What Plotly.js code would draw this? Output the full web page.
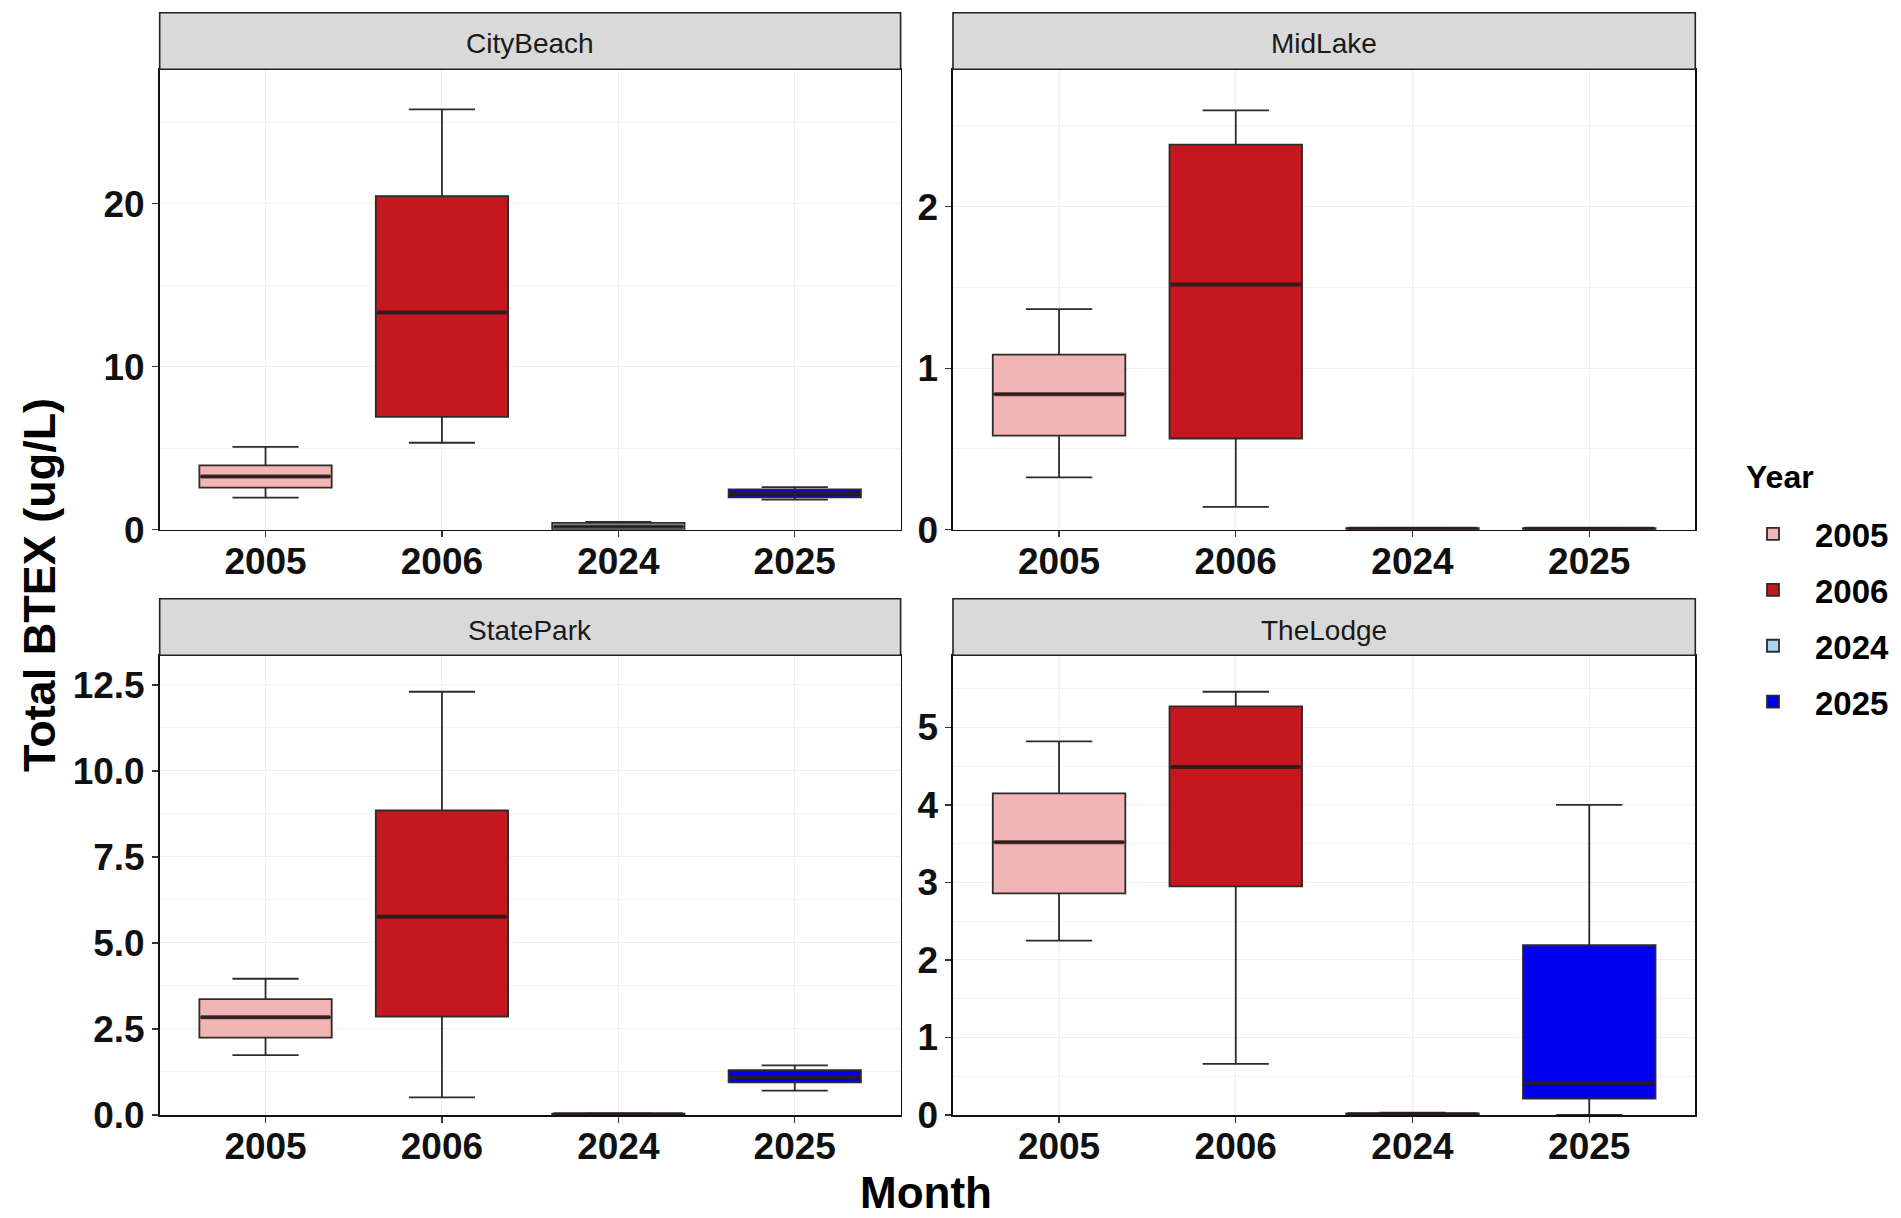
<!DOCTYPE html>
<html>
<head>
<meta charset="utf-8">
<script src="https://cdn.plot.ly/plotly-3.0.1.min.js"></script>
<style>
  html, body { margin: 0; padding: 0; background: #ffffff; }
  #chart { width: 1901px; height: 1218px; }
</style>
</head>
<body>
<div id="chart"></div>
<script>
// ---- data ----
const sites = ['CityBeach', 'MidLake', 'StatePark', 'TheLodge'];
const years = ['2005', '2006', '2024', '2025'];
const yearColors = ['#F2B5B5', '#C5181E', '#A6D8F4', '#0000EE'];

// rows = sites, columns = years
const lowerFence = [
  [1.98, 5.34, 0.00, 1.85],
  [0.325, 0.142, 0.000, 0.000],
  [1.74, 0.51, 0.00, 0.71],
  [2.25, 0.66, 0.00, 0.00]
];
const q1 = [
  [2.59, 6.93, 0.03, 1.99],
  [0.583, 0.565, 0.003, 0.003],
  [2.25, 2.86, 0.01, 0.95],
  [2.86, 2.95, 0.005, 0.21]
];
const median = [
  [3.27, 13.33, 0.20, 2.25],
  [0.839, 1.518, 0.006, 0.006],
  [2.84, 5.76, 0.02, 1.10],
  [3.52, 4.49, 0.01, 0.41]
];
const q3 = [
  [3.95, 20.47, 0.42, 2.48],
  [1.084, 2.383, 0.010, 0.010],
  [3.37, 8.85, 0.04, 1.30],
  [4.15, 5.27, 0.02, 2.19]
];
const upperFence = [
  [5.09, 25.8, 0.48, 2.62],
  [1.365, 2.595, 0.012, 0.012],
  [3.96, 12.3, 0.05, 1.44],
  [4.82, 5.46, 0.03, 4.00]
];
const yMax = [28.26, 2.85, 13.36, 5.93];
const yDtick = [10, 1, 2.5, 1];
const yTickFormat = ['d', 'd', '.1f', 'd'];

// ---- layout geometry ----
const W = 1901, H = 1218;
const xDomains = [[159.7 / W, 900.6 / W], [953 / W, 1695.3 / W], [159.7 / W, 900.6 / W], [953 / W, 1695.3 / W]];
const yDomains = [[1 - 529.8 / H, 1 - 69.2 / H], [1 - 529.8 / H, 1 - 69.2 / H], [1 - 1115 / H, 1 - 655.3 / H], [1 - 1115 / H, 1 - 655.3 / H]];
const boxWidth = 0.75;
const xRange = [-0.6, 3.6];

const FONT = 'Liberation Sans, Arial, Helvetica, sans-serif';
const traces = [];
const shapes = [];
const annotations = [];
const layout = {
  width: W, height: H,
  margin: { l: 0, r: 0, t: 0, b: 0 },
  paper_bgcolor: '#ffffff',
  plot_bgcolor: '#ffffff',
  showlegend: true,
  boxmode: 'overlay',
  legend: {
    x: 1731 / W, xanchor: 'left',
    y: 1 - 506 / H, yanchor: 'top',
    itemwidth: 74,
    font: { family: FONT, size: 33, color: '#000000', weight: 'bold' },
    tracegroupgap: 10,
    bgcolor: 'rgba(0,0,0,0)'
  }
};

sites.forEach((site, s) => {
  const sfx = s === 0 ? '' : String(s + 1);
  const xa = 'x' + sfx, ya = 'y' + sfx;
  const pxPerUnit = (xDomains[s][1] - xDomains[s][0]) * W / (xRange[1] - xRange[0]);

  years.forEach((yr, j) => {
    traces.push({
      type: 'box',
      name: yr,
      legendgroup: yr,
      showlegend: s === 0,
      x: [yr],
      q1: [q1[s][j]],
      median: [median[s][j]],
      q3: [q3[s][j]],
      lowerfence: [lowerFence[s][j]],
      upperfence: [upperFence[s][j]],
      boxpoints: false,
      width: boxWidth,
      fillcolor: yearColors[j],
      line: { color: '#2E2A2A', width: 1.8 },
      xaxis: xa, yaxis: ya,
      hoverinfo: 'y'
    });
  });

  // thicker median bars (ggplot fatten); line-ew glyph spans 2*1.4*(size/2)
  traces.push({
    type: 'scatter',
    mode: 'markers',
    x: years,
    y: median[s],
    showlegend: false,
    hoverinfo: 'skip',
    marker: {
      symbol: 'line-ew',
      size: (boxWidth * pxPerUnit - 3) / 1.4,
      color: 'rgba(45,25,25,0.9)',
      line: { width: 4, color: 'rgba(45,25,25,0.85)' }
    },
    xaxis: xa, yaxis: ya
  });

  layout['xaxis' + sfx] = {
    domain: xDomains[s],
    anchor: ya,
    type: 'category',
    categoryorder: 'array',
    categoryarray: years,
    range: xRange,
    showgrid: true,
    gridcolor: '#EFEFEF',
    gridwidth: 1,
    zeroline: false,
    showline: true,
    mirror: true,
    linecolor: '#111111',
    linewidth: 1.6,
    ticks: 'outside',
    ticklen: 6,
    tickwidth: 1.3,
    tickcolor: '#333333',
    ticklabelstandoff: -8,
    tickfont: { family: FONT, size: 37, color: '#111111', weight: 'bold' },
    automargin: false,
    fixedrange: true
  };
  layout['yaxis' + sfx] = {
    domain: yDomains[s],
    anchor: xa,
    range: [0, yMax[s]],
    dtick: yDtick[s],
    tick0: 0,
    tickformat: yTickFormat[s],
    showgrid: true,
    gridcolor: '#EFEFEF',
    gridwidth: 1,
    minor: { dtick: yDtick[s] / 2, showgrid: true, gridcolor: '#F6F6F6', gridwidth: 1 },
    zeroline: false,
    showline: true,
    mirror: true,
    linecolor: '#111111',
    linewidth: 1.6,
    ticks: 'outside',
    ticklen: 6,
    tickwidth: 1.3,
    tickcolor: '#333333',
    tickfont: { family: FONT, size: 37, color: '#111111', weight: 'bold' },
    automargin: false,
    fixedrange: true
  };

  // facet strip
  const plotH = (yDomains[s][1] - yDomains[s][0]) * H;
  const stripFrac = 56.5 / plotH;
  shapes.push({
    type: 'rect',
    xref: xa + ' domain', yref: ya + ' domain',
    x0: 0, x1: 1, y0: 1, y1: 1 + stripFrac,
    fillcolor: '#D9D9D9',
    line: { color: '#222222', width: 1.6 },
    layer: 'above'
  });
  annotations.push({
    xref: xa + ' domain', yref: ya + ' domain',
    x: 0.5, y: 1 + (stripFrac / 2) - 3 / plotH,
    xanchor: 'center', yanchor: 'middle',
    text: site,
    showarrow: false,
    font: { family: FONT, size: 28, color: '#1A1A1A' }
  });
});

annotations.push({
  xref: 'paper', yref: 'paper',
  x: 1744 / W, y: 1 - 477 / H,
  xanchor: 'left', yanchor: 'middle',
  text: 'Year', showarrow: false,
  font: { family: FONT, size: 32, color: '#000000', weight: 'bold' }
});
annotations.push({
  xref: 'paper', yref: 'paper',
  x: 926 / W, y: 1 - 1192 / H,
  xanchor: 'center', yanchor: 'middle',
  text: 'Month', showarrow: false,
  font: { family: FONT, size: 44, color: '#000000', weight: 'bold' }
});
annotations.push({
  xref: 'paper', yref: 'paper',
  x: 39 / W, y: 1 - 585 / H,
  xanchor: 'center', yanchor: 'middle',
  text: 'Total BTEX (ug/L)', showarrow: false, textangle: -90,
  font: { family: FONT, size: 45, color: '#000000', weight: 'bold' }
});

layout.shapes = shapes;
layout.annotations = annotations;

Plotly.newPlot('chart', traces, layout, { displayModeBar: false, staticPlot: true });
</script>
</body>
</html>
